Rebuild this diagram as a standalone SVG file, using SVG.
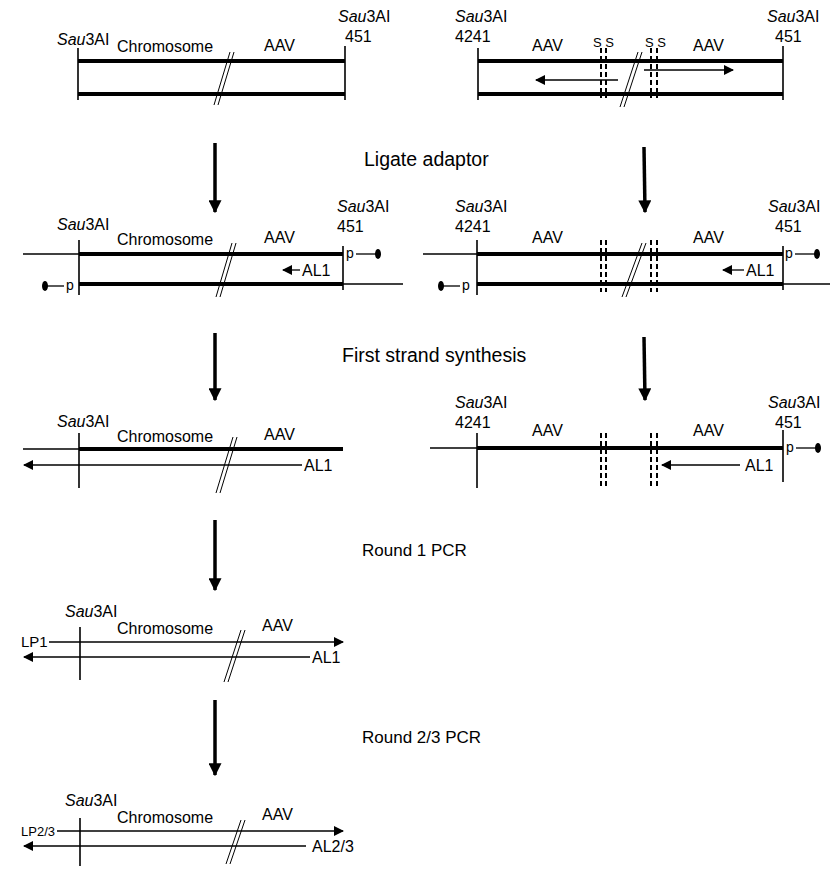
<svg xmlns="http://www.w3.org/2000/svg" width="833" height="874" viewBox="0 0 833 874">
<defs>
<style>
text{font-family:"Liberation Sans",Arial,sans-serif;fill:#000}
.lb{font-size:16px}
.st{font-size:19.5px}
.st2{font-size:17px}
.sm{font-size:13px}
.pp{font-size:14px}
.thick{stroke:#000;stroke-width:4;fill:none}
.thin{stroke:#000;stroke-width:1.3;fill:none}
.vl{stroke:#000;stroke-width:1.6;fill:none}
.sl{stroke:#000;stroke-width:1;fill:none}
.dash{stroke:#000;stroke-width:2;stroke-dasharray:5,3;fill:none}
.big{stroke:#000;stroke-width:3.5;fill:none}
</style>
<marker id="hd" viewBox="0 0 10 10" refX="9" refY="5" markerWidth="10" markerHeight="10" markerUnits="userSpaceOnUse" orient="auto"><path d="M0,0 L10,5 L0,10 z" fill="#000"/></marker>
<marker id="bh" viewBox="0 0 10 10" refX="9" refY="5" markerWidth="13" markerHeight="13" markerUnits="userSpaceOnUse" orient="auto"><path d="M0,0 L10,5 L0,10 z" fill="#000"/></marker>
</defs>

<g id="connectors">
<line class="big" x1="215" y1="143" x2="215" y2="212" marker-end="url(#bh)"/>
<line class="big" x1="644" y1="147" x2="645" y2="212" marker-end="url(#bh)"/>
<line class="big" x1="215" y1="333" x2="215" y2="400" marker-end="url(#bh)"/>
<line class="big" x1="644" y1="337" x2="645" y2="400" marker-end="url(#bh)"/>
<line class="big" x1="215" y1="520" x2="215" y2="590" marker-end="url(#bh)"/>
<line class="big" x1="215" y1="700" x2="215" y2="775" marker-end="url(#bh)"/>
</g>

<g id="steps">
<text class="st" x="364" y="166">Ligate adaptor</text>
<text class="st" x="342" y="362">First strand synthesis</text>
<text class="st2" x="362" y="556">Round 1 PCR</text>
<text class="st2" x="362" y="743">Round 2/3 PCR</text>
</g>

<!-- Row 1 left -->
<g id="r1-left">
<line class="vl" x1="78" y1="48" x2="78" y2="100"/>
<line class="vl" x1="345" y1="46" x2="345" y2="100"/>
<line class="thick" x1="78" y1="61" x2="345" y2="61"/>
<line class="thick" x1="78" y1="94" x2="345" y2="94"/>
<line class="sl" x1="230" y1="52" x2="214" y2="105"/>
<line class="sl" x1="234" y1="52" x2="218" y2="105"/>
<text class="lb" x="57" y="45"><tspan font-style="italic">Sau</tspan>3AI</text>
<text class="lb" x="117" y="52">Chromosome</text>
<text class="lb" x="264" y="51">AAV</text>
<text class="lb" x="338" y="22"><tspan font-style="italic">Sau</tspan>3AI</text>
<text class="lb" x="345" y="42">451</text>
</g>

<!-- Row 1 right -->
<g id="r1-right">
<line class="vl" x1="478" y1="48" x2="478" y2="100"/>
<line class="vl" x1="783" y1="46" x2="783" y2="100"/>
<line class="thick" x1="478" y1="61" x2="783" y2="61"/>
<line class="thick" x1="478" y1="94" x2="783" y2="94"/>
<line class="dash" x1="601" y1="48" x2="601" y2="98"/>
<line class="dash" x1="606" y1="48" x2="606" y2="98"/>
<line class="dash" x1="651" y1="48" x2="651" y2="98"/>
<line class="dash" x1="657" y1="48" x2="657" y2="98"/>
<line class="sl" x1="638" y1="52" x2="620" y2="107"/>
<line class="sl" x1="642" y1="52" x2="624" y2="107"/>
<line class="thin" x1="618" y1="80" x2="536" y2="80" marker-end="url(#hd)"/>
<line class="thin" x1="644" y1="70" x2="733" y2="70" marker-end="url(#hd)"/>
<text class="lb" x="455" y="22"><tspan font-style="italic">Sau</tspan>3AI</text>
<text class="lb" x="455" y="42">4241</text>
<text class="lb" x="532" y="51">AAV</text>
<text class="sm" x="593" y="47">S S</text>
<text class="sm" x="645" y="47">S S</text>
<text class="lb" x="693" y="51">AAV</text>
<text class="lb" x="767" y="22"><tspan font-style="italic">Sau</tspan>3AI</text>
<text class="lb" x="775" y="42">451</text>
</g>

<!-- Row 2 left -->
<g id="r2-left">
<line class="thin" x1="23" y1="254" x2="79" y2="254"/>
<line class="vl" x1="79" y1="240" x2="79" y2="295"/>
<line class="vl" x1="343" y1="246" x2="343" y2="290"/>
<line class="thick" x1="79" y1="254" x2="343" y2="254"/>
<line class="thick" x1="79" y1="284" x2="343" y2="284"/>
<line class="thin" x1="343" y1="284" x2="403" y2="284"/>
<text class="pp" x="346" y="258">p</text>
<line class="thin" x1="356" y1="254" x2="377" y2="254"/>
<ellipse cx="378" cy="254" rx="3" ry="5" fill="#000"/>
<ellipse cx="45" cy="286" rx="3" ry="5" fill="#000"/>
<line class="thin" x1="46" y1="286" x2="64" y2="286"/>
<text class="pp" x="66" y="290">p</text>
<line class="thin" x1="300" y1="270" x2="283" y2="270" marker-end="url(#hd)"/>
<text class="lb" x="302" y="276">AL1</text>
<line class="sl" x1="232" y1="243" x2="216" y2="297"/>
<line class="sl" x1="236" y1="243" x2="220" y2="297"/>
<text class="lb" x="57" y="230"><tspan font-style="italic">Sau</tspan>3AI</text>
<text class="lb" x="117" y="245">Chromosome</text>
<text class="lb" x="264" y="243">AAV</text>
<text class="lb" x="337" y="212"><tspan font-style="italic">Sau</tspan>3AI</text>
<text class="lb" x="337" y="232">451</text>
</g>

<!-- Row 2 right -->
<g id="r2-right">
<line class="thin" x1="423" y1="254" x2="477" y2="254"/>
<line class="vl" x1="477" y1="240" x2="477" y2="295"/>
<line class="vl" x1="783" y1="246" x2="783" y2="290"/>
<line class="thick" x1="477" y1="254" x2="783" y2="254"/>
<line class="thick" x1="477" y1="284" x2="783" y2="284"/>
<line class="thin" x1="783" y1="284" x2="830" y2="284"/>
<text class="pp" x="785" y="258">p</text>
<line class="thin" x1="795" y1="254" x2="816" y2="254"/>
<ellipse cx="817" cy="254" rx="3" ry="5" fill="#000"/>
<ellipse cx="441" cy="286" rx="3" ry="5" fill="#000"/>
<line class="thin" x1="442" y1="286" x2="460" y2="286"/>
<text class="pp" x="462" y="290">p</text>
<line class="dash" x1="601" y1="240" x2="601" y2="292"/>
<line class="dash" x1="606" y1="240" x2="606" y2="292"/>
<line class="dash" x1="651" y1="240" x2="651" y2="292"/>
<line class="dash" x1="657" y1="240" x2="657" y2="292"/>
<line class="sl" x1="642" y1="243" x2="622" y2="297"/>
<line class="sl" x1="646" y1="243" x2="626" y2="297"/>
<line class="thin" x1="744" y1="270" x2="723" y2="270" marker-end="url(#hd)"/>
<text class="lb" x="746" y="276">AL1</text>
<text class="lb" x="455" y="212"><tspan font-style="italic">Sau</tspan>3AI</text>
<text class="lb" x="455" y="232">4241</text>
<text class="lb" x="532" y="243">AAV</text>
<text class="lb" x="693" y="243">AAV</text>
<text class="lb" x="768" y="212"><tspan font-style="italic">Sau</tspan>3AI</text>
<text class="lb" x="775" y="232">451</text>
</g>

<!-- Row 3 left -->
<g id="r3-left">
<line class="thin" x1="23" y1="449" x2="79" y2="449"/>
<line class="vl" x1="79" y1="433" x2="79" y2="488"/>
<line class="thick" x1="79" y1="449" x2="343" y2="449"/>
<line class="thin" x1="302" y1="465" x2="24" y2="465" marker-end="url(#hd)"/>
<text class="lb" x="304" y="471">AL1</text>
<line class="sl" x1="233" y1="437" x2="216" y2="493"/>
<line class="sl" x1="237" y1="437" x2="220" y2="493"/>
<text class="lb" x="57" y="427"><tspan font-style="italic">Sau</tspan>3AI</text>
<text class="lb" x="117" y="442">Chromosome</text>
<text class="lb" x="264" y="440">AAV</text>
</g>

<!-- Row 3 right -->
<g id="r3-right">
<line class="thin" x1="430" y1="448" x2="477" y2="448"/>
<line class="vl" x1="477" y1="433" x2="477" y2="488"/>
<line class="vl" x1="783" y1="430" x2="783" y2="482"/>
<line class="thick" x1="477" y1="448" x2="783" y2="448"/>
<text class="pp" x="786" y="452">p</text>
<line class="thin" x1="796" y1="448" x2="817" y2="448"/>
<ellipse cx="818" cy="448" rx="3" ry="5" fill="#000"/>
<line class="dash" x1="601" y1="433" x2="601" y2="486"/>
<line class="dash" x1="606" y1="433" x2="606" y2="486"/>
<line class="dash" x1="651" y1="433" x2="651" y2="486"/>
<line class="dash" x1="657" y1="433" x2="657" y2="486"/>
<line class="thin" x1="740" y1="465" x2="662" y2="465" marker-end="url(#hd)"/>
<text class="lb" x="745" y="471">AL1</text>
<text class="lb" x="455" y="408"><tspan font-style="italic">Sau</tspan>3AI</text>
<text class="lb" x="455" y="428">4241</text>
<text class="lb" x="532" y="436">AAV</text>
<text class="lb" x="693" y="436">AAV</text>
<text class="lb" x="768" y="408"><tspan font-style="italic">Sau</tspan>3AI</text>
<text class="lb" x="775" y="428">451</text>
</g>

<!-- Row 4 -->
<g id="r4">
<line class="vl" x1="80" y1="627" x2="80" y2="680"/>
<line class="thin" x1="49" y1="642" x2="343" y2="642" marker-end="url(#hd)"/>
<line class="thin" x1="310" y1="657" x2="24" y2="657" marker-end="url(#hd)"/>
<text x="21" y="647" font-size="15">LP1</text>
<text class="lb" x="312" y="663">AL1</text>
<line class="sl" x1="241" y1="630" x2="224" y2="682"/>
<line class="sl" x1="245" y1="630" x2="228" y2="682"/>
<text class="lb" x="65" y="617"><tspan font-style="italic">Sau</tspan>3AI</text>
<text class="lb" x="117" y="634">Chromosome</text>
<text class="lb" x="262" y="631">AAV</text>
</g>

<!-- Row 5 -->
<g id="r5">
<line class="vl" x1="80" y1="818" x2="80" y2="866"/>
<line class="thin" x1="57" y1="831" x2="343" y2="831" marker-end="url(#hd)"/>
<line class="thin" x1="306" y1="846" x2="24" y2="846" marker-end="url(#hd)"/>
<text x="21" y="836" font-size="13">LP2/3</text>
<text class="lb" x="312" y="852">AL2/3</text>
<line class="sl" x1="241" y1="820" x2="226" y2="864"/>
<line class="sl" x1="245" y1="820" x2="230" y2="864"/>
<text class="lb" x="65" y="806"><tspan font-style="italic">Sau</tspan>3AI</text>
<text class="lb" x="117" y="823">Chromosome</text>
<text class="lb" x="262" y="820">AAV</text>
</g>
</svg>
